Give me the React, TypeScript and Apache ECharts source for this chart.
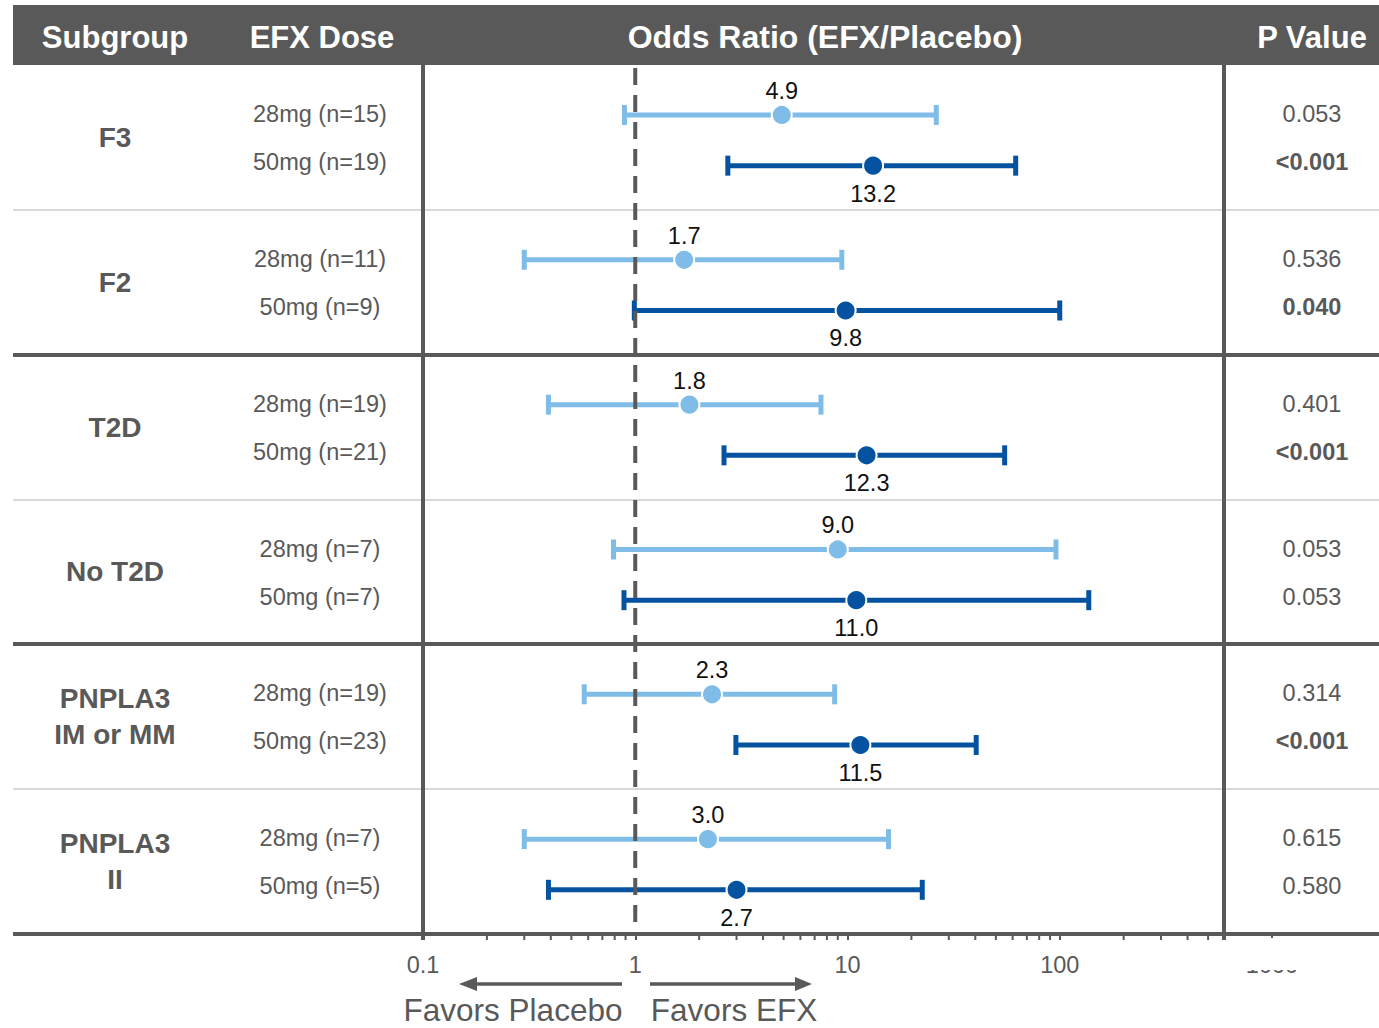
import React, { useEffect, useRef } from "react";
import * as echarts from "echarts";

// ---------- data ----------
const subgroups = ["F3", "F2", "T2D", "No T2D", "PNPLA3\nIM or MM", "PNPLA3\nII"];
const doses28 = ["28mg (n=15)", "28mg (n=11)", "28mg (n=19)", "28mg (n=7)", "28mg (n=19)", "28mg (n=7)"];
const doses50 = ["50mg (n=19)", "50mg (n=9)", "50mg (n=21)", "50mg (n=7)", "50mg (n=23)", "50mg (n=5)"];
// odds ratios as plotted, lower / upper CI
const or28 = [4.9, 1.7, 1.8, 9.0, 2.3, 2.2];
const lo28 = [0.89, 0.3, 0.39, 0.79, 0.575, 0.3];
const hi28 = [26.2, 9.4, 7.5, 96, 8.7, 15.6];
const lab28 = ["4.9", "1.7", "1.8", "9.0", "2.3", "3.0"];
const or50 = [13.2, 9.8, 12.3, 11.0, 11.5, 3.0];
const lo50 = [2.73, 0.99, 2.62, 0.885, 2.98, 0.39];
const hi50 = [62, 100, 55, 137, 40.4, 22.5];
const lab50 = ["13.2", "9.8", "12.3", "11.0", "11.5", "2.7"];
const p28 = ["0.053", "0.536", "0.401", "0.053", "0.314", "0.615"];
const p50 = ["<0.001", "0.040", "<0.001", "0.053", "<0.001", "0.580"];
const minorTicks = [0.2, 0.3, 0.4, 0.5, 0.6, 0.7, 0.8, 0.9, 2, 3, 4, 5, 6, 7, 8, 9, 20, 30, 40, 50, 60, 70, 80, 90, 200, 300, 400, 500];
const headers = ["Subgroup", "EFX Dose", "Odds Ratio (EFX/Placebo)", "P Value"];
const favorTexts = ["Favors Placebo", "Favors EFX"];

// ---------- style / layout ----------
const FONT = '"Liberation Sans", Arial, Helvetica, sans-serif';
const GRAY = "#595959";
const LIGHT = "#7FBDE8";
const DARK = "#0553A0";
const W = 1379;
const H = 1028;
const TOP = 65;
const BOTTOM = 934;
const GH = (BOTTOM - TOP) / 6;
const PLOT_L = 423;
const PLOT_R = 1224;
const AXIS_R = 1272;
const OFF28 = 0.345;
const OFF50 = 0.695;

function isSig(p: string) {
  if (p.startsWith("<")) return true;
  return parseFloat(p) < 0.05;
}

function buildOption() {
  const graphics: any[] = [];
  // header
  graphics.push({ type: "rect", shape: { x: 13, y: 5, width: W - 13, height: 60 }, style: { fill: GRAY }, z: 1 });
  const hx = [115, 322, 825, 1312];
  headers.forEach((t, i) => {
    graphics.push({
      type: "text", x: hx[i], y: 37, z: 2,
      style: { text: t, fill: "#fff", font: `bold ${i === 2 ? 32 : 31}px ${FONT}`, textAlign: "center", textVerticalAlign: "middle" },
    });
  });
  // row separators
  for (let g = 1; g < 6; g++) {
    const y = Math.round(TOP + g * GH);
    const thick = g % 2 === 0;
    graphics.push({
      type: "line", z: thick ? 3 : 1,
      shape: { x1: 13, y1: y, x2: W, y2: y },
      style: { stroke: thick ? GRAY : "#D9D9D9", lineWidth: thick ? 4 : 2 },
    });
  }
  graphics.push({ type: "line", z: 3, shape: { x1: 13, y1: BOTTOM, x2: W, y2: BOTTOM }, style: { stroke: GRAY, lineWidth: 4 } });
  // vertical borders
  [PLOT_L, PLOT_R].forEach((x) => {
    graphics.push({ type: "line", z: 4, shape: { x1: x, y1: TOP, x2: x, y2: 940 }, style: { stroke: GRAY, lineWidth: 4 } });
  });
  // text columns
  subgroups.forEach((s, g) => {
    const cy = TOP + (g + 0.5) * GH;
    graphics.push({
      type: "text", x: 115, y: cy, z: 2,
      style: { text: s, fill: GRAY, font: `bold 28px ${FONT}`, textAlign: "center", textVerticalAlign: "middle", lineHeight: 36 },
    });
    const y1 = TOP + g * GH + 49;
    const y2 = TOP + g * GH + 97;
    graphics.push({ type: "text", x: 320, y: y1, z: 2, style: { text: doses28[g], fill: GRAY, font: `23.5px ${FONT}`, textAlign: "center", textVerticalAlign: "middle" } });
    graphics.push({ type: "text", x: 320, y: y2, z: 2, style: { text: doses50[g], fill: GRAY, font: `23.5px ${FONT}`, textAlign: "center", textVerticalAlign: "middle" } });
    graphics.push({ type: "text", x: 1312, y: y1, z: 2, style: { text: p28[g], fill: GRAY, font: `${isSig(p28[g]) ? "bold " : ""}23.5px ${FONT}`, textAlign: "center", textVerticalAlign: "middle" } });
    graphics.push({ type: "text", x: 1312, y: y2, z: 2, style: { text: p50[g], fill: GRAY, font: `${isSig(p50[g]) ? "bold " : ""}23.5px ${FONT}`, textAlign: "center", textVerticalAlign: "middle" } });
  });
  // cover for the clipped right end of the axis
  graphics.push({ type: "rect", z: 100, shape: { x: 1227, y: 938, width: W - 1227, height: 32 }, style: { fill: "#fff" } });
  // arrows
  graphics.push({ type: "line", z: 2, shape: { x1: 622, y1: 984, x2: 474, y2: 984 }, style: { stroke: GRAY, lineWidth: 3.5 } });
  graphics.push({ type: "polygon", z: 2, shape: { points: [[459, 984], [477, 977], [477, 991]] }, style: { fill: GRAY } });
  graphics.push({ type: "line", z: 2, shape: { x1: 650, y1: 984, x2: 798, y2: 984 }, style: { stroke: GRAY, lineWidth: 3.5 } });
  graphics.push({ type: "polygon", z: 2, shape: { points: [[812, 984], [795, 977], [795, 991]] }, style: { fill: GRAY } });
  graphics.push({ type: "text", x: 513, y: 1010, z: 2, style: { text: favorTexts[0], fill: GRAY, font: `31.5px ${FONT}`, textAlign: "center", textVerticalAlign: "middle" } });
  graphics.push({ type: "text", x: 734, y: 1010, z: 2, style: { text: favorTexts[1], fill: GRAY, font: `31.5px ${FONT}`, textAlign: "center", textVerticalAlign: "middle" } });

  const errData28 = or28.map((_, g) => [lo28[g], hi28[g], g + OFF28]);
  const errData50 = or50.map((_, g) => [lo50[g], hi50[g], g + OFF50]);
  const pts28 = or28.map((v, g) => [v, g + OFF28]);
  const pts50 = or50.map((v, g) => [v, g + OFF50]);

  const errRender = (color: string) => (params: any, api: any) => {
    const a = api.coord([api.value(0), api.value(2)]);
    const b = api.coord([api.value(1), api.value(2)]);
    const st = { stroke: color, lineWidth: 5 };
    return {
      type: "group",
      children: [
        { type: "line", shape: { x1: a[0], y1: a[1], x2: b[0], y2: b[1] }, style: st },
        { type: "line", shape: { x1: a[0], y1: a[1] - 10, x2: a[0], y2: a[1] + 10 }, style: st },
        { type: "line", shape: { x1: b[0], y1: b[1] - 10, x2: b[0], y2: b[1] + 10 }, style: st },
      ],
    };
  };

  return {
    animation: false,
    backgroundColor: "#fff",
    textStyle: { fontFamily: FONT },
    grid: { left: PLOT_L, top: TOP, width: AXIS_R - PLOT_L, height: BOTTOM - TOP, containLabel: false },
    xAxis: {
      type: "log",
      logBase: 10,
      min: 0.1,
      max: 1000,
      position: "bottom",
      axisLine: { show: true, onZero: false, lineStyle: { color: GRAY, width: 4 } },
      axisTick: { show: true, length: 6, lineStyle: { color: GRAY, width: 2 } },
      axisLabel: {
        color: GRAY, fontSize: 23.5, fontFamily: FONT, margin: 19,
        formatter: (v: number) => String(Number(Number(v).toPrecision(4))),
      },
      splitLine: { show: false },
    },
    yAxis: { type: "value", min: 0, max: 6, inverse: true, show: false },
    graphic: graphics,
    series: [
      {
        type: "custom", name: "minorTicks", z: 2,
        data: minorTicks.map((v) => [v]),
        encode: { x: 0 },
        renderItem: (params: any, api: any) => {
          const p = api.coord([api.value(0), 6]);
          return { type: "line", shape: { x1: p[0], y1: p[1], x2: p[0], y2: p[1] + 6 }, style: { stroke: GRAY, lineWidth: 2 } };
        },
      },
      { type: "custom", name: "ci28", z: 2, data: errData28, encode: { x: [0, 1], y: 2 }, renderItem: errRender(LIGHT) },
      { type: "custom", name: "ci50", z: 2, data: errData50, encode: { x: [0, 1], y: 2 }, renderItem: errRender(DARK) },
      {
        type: "custom", name: "ref", z: 3,
        data: [[1]],
        encode: { x: 0 },
        renderItem: (params: any, api: any) => {
          const a = api.coord([api.value(0), 0]);
          const b = api.coord([api.value(0), 6]);
          return {
            type: "line",
            shape: { x1: a[0], y1: a[1] + 3, x2: b[0], y2: b[1] },
            style: { stroke: GRAY, lineWidth: 4, lineDash: [17, 10] },
          };
        },
      },
      {
        type: "scatter", name: "28mg", z: 5,
        data: pts28,
        symbol: "circle", symbolSize: 20,
        itemStyle: { color: LIGHT, borderColor: "#fff", borderWidth: 2, opacity: 1 },
        label: {
          show: true, position: "top", distance: 1, color: "#111", fontSize: 23.5, fontFamily: FONT,
          formatter: (p: any) => lab28[p.dataIndex],
        },
      },
      {
        type: "scatter", name: "50mg", z: 5,
        data: pts50,
        symbol: "circle", symbolSize: 20,
        itemStyle: { color: DARK, borderColor: "#fff", borderWidth: 2, opacity: 1 },
        label: {
          show: true, position: "bottom", distance: 5, color: "#111", fontSize: 23.5, fontFamily: FONT,
          formatter: (p: any) => lab50[p.dataIndex],
        },
      },
    ],
  };
}

export default function App() {
  const ref = useRef<HTMLDivElement>(null);
  useEffect(() => {
    if (!ref.current) return;
    const chart = echarts.init(ref.current, undefined, { renderer: "svg" });
    chart.setOption(buildOption() as any);
    return () => chart.dispose();
  }, []);
  return (
    <div
      ref={ref}
      style={{ position: "absolute", left: 0, top: 0, width: W, height: H, background: "#fff" }}
    />
  );
}
